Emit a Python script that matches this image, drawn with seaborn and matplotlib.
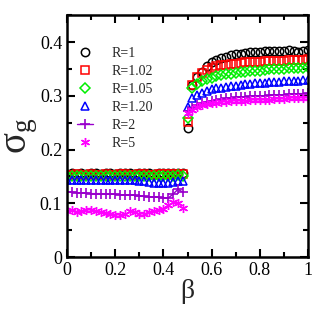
import matplotlib
matplotlib.use("Agg")
import matplotlib.pyplot as plt
import numpy as np
import pandas as pd
import seaborn as sns
from matplotlib.ticker import MultipleLocator, FuncFormatter

# beta grids (low phase and high phase)
beta_low = np.round(np.arange(0.0, 0.49, 0.02), 2)
beta_high = np.round(np.concatenate([[0.50], np.arange(0.52, 1.001, 0.02)]), 2)

labels = ['R=1', 'R=1.02', 'R=1.05', 'R=1.20', 'R=2', 'R=5']

r1_low = [0.155, 0.156, 0.155, 0.156, 0.155, 0.156, 0.156, 0.155, 0.156, 0.156,
          0.155, 0.156, 0.157, 0.156, 0.155, 0.156, 0.157, 0.156, 0.155, 0.156,
          0.157, 0.156, 0.156, 0.157, 0.157]
r102_low = [0.153, 0.153, 0.154, 0.153, 0.153, 0.154, 0.153, 0.153, 0.154, 0.153,
            0.153, 0.154, 0.154, 0.153, 0.153, 0.154, 0.154, 0.153, 0.153, 0.154,
            0.154, 0.154, 0.155, 0.155, 0.155]
r105_low = [0.150, 0.150, 0.151, 0.150, 0.150, 0.151, 0.150, 0.150, 0.151, 0.150,
            0.150, 0.151, 0.151, 0.150, 0.150, 0.151, 0.150, 0.150, 0.151, 0.150,
            0.151, 0.151, 0.150, 0.152, 0.151]
r120_low = [0.143, 0.143, 0.144, 0.143, 0.143, 0.144, 0.143, 0.143, 0.143, 0.143,
            0.143, 0.143, 0.143, 0.143, 0.143, 0.142, 0.142, 0.139, 0.138, 0.138,
            0.138, 0.138, 0.139, 0.142, 0.142]
r2_low = [0.121, 0.121, 0.120, 0.119, 0.119, 0.118, 0.118, 0.118, 0.117, 0.117,
          0.117, 0.116, 0.116, 0.115, 0.115, 0.113, 0.113, 0.112, 0.112, 0.111,
          0.110, 0.110, 0.117, 0.126, 0.121]
r5_low = [0.086, 0.087, 0.084, 0.085, 0.088, 0.087, 0.085, 0.083, 0.082, 0.081,
          0.079, 0.078, 0.080, 0.085, 0.084, 0.081, 0.081, 0.083, 0.085, 0.087,
          0.089, 0.097, 0.103, 0.101, 0.091]

r1_high = [0.240, 0.320, 0.335, 0.345, 0.355, 0.362, 0.366, 0.370, 0.373, 0.375,
           0.377, 0.378, 0.380, 0.381, 0.381, 0.382, 0.383, 0.383, 0.384, 0.384,
           0.383, 0.385, 0.384, 0.382, 0.384, 0.385]
r102_high = [0.252, 0.320, 0.335, 0.342, 0.348, 0.352, 0.355, 0.357, 0.358, 0.359,
             0.360, 0.361, 0.362, 0.362, 0.363, 0.363, 0.364, 0.364, 0.365, 0.365,
             0.365, 0.366, 0.366, 0.367, 0.367, 0.368]
r105_high = [0.259, 0.315, 0.322, 0.327, 0.331, 0.334, 0.336, 0.338, 0.340, 0.341,
             0.343, 0.344, 0.345, 0.346, 0.347, 0.347, 0.348, 0.349, 0.349, 0.350,
             0.350, 0.351, 0.351, 0.352, 0.352, 0.353]
r120_high = [0.280, 0.295, 0.302, 0.306, 0.309, 0.312, 0.314, 0.315, 0.317, 0.318,
             0.319, 0.320, 0.321, 0.322, 0.323, 0.324, 0.324, 0.325, 0.326, 0.326,
             0.327, 0.327, 0.328, 0.328, 0.329, 0.329]
r2_high = [0.272, 0.278, 0.283, 0.287, 0.289, 0.291, 0.292, 0.294, 0.295, 0.296,
           0.297, 0.297, 0.298, 0.299, 0.299, 0.300, 0.300, 0.301, 0.301, 0.302,
           0.302, 0.303, 0.303, 0.304, 0.304, 0.305]
r5_high = [0.268, 0.274, 0.279, 0.282, 0.284, 0.286, 0.287, 0.288, 0.289, 0.290,
           0.290, 0.291, 0.291, 0.292, 0.292, 0.293, 0.293, 0.293, 0.294, 0.294,
           0.294, 0.295, 0.295, 0.295, 0.296, 0.296]

lows = [r1_low, r102_low, r105_low, r120_low, r2_low, r5_low]
highs = [r1_high, r102_high, r105_high, r120_high, r2_high, r5_high]
colors = ['black', '#ff0000', '#00ee00', '#0000ff', '#9900cc', '#ff00ff']
markers = ['o', 's', 'D', '^', '+', (6, 2, 0)]
msizes = [6, 5.5, 4.8, 5.8, 7.5, 6.5]

rows = []
for lab, lo, hi in zip(labels, lows, highs):
    for b, v in zip(beta_low, lo):
        rows.append((lab, 'low', b, v))
    for b, v in zip(beta_high, hi):
        rows.append((lab, 'high', b, v))
df = pd.DataFrame(rows, columns=['R', 'phase', 'beta', 'sigma'])

sns.set_style("ticks")
plt.rcParams['font.family'] = ['Liberation Serif', 'DejaVu Serif']
plt.rcParams['mathtext.fontset'] = 'custom'
plt.rcParams['mathtext.rm'] = 'Liberation Serif'
plt.rcParams['mathtext.it'] = 'Liberation Serif:italic'

fig = plt.figure(figsize=(3.27, 3.09), dpi=100)
ax = fig.add_axes([0.205, 0.168, 0.737, 0.783])

for lab, c, m, ms in zip(labels, colors, markers, msizes):
    for phase in ['low', 'high']:
        sub = df[(df['R'] == lab) & (df['phase'] == phase)]
        kw = dict(data=sub, x='beta', y='sigma', ax=ax, color=c, marker=m,
                  markersize=ms, markeredgecolor=c, estimator=None,
                  label=lab if phase == 'low' else None)
        if lab == 'R=2':
            sns.lineplot(markeredgewidth=1.2, linewidth=1.0, **kw)
        elif lab == 'R=5':
            sns.lineplot(markeredgewidth=1.0, linestyle='none', **kw)
        else:
            sns.lineplot(markeredgewidth=1.1, markerfacecolor='none',
                         linestyle='none', **kw)

ax.set_xlim(0, 1)
ax.set_ylim(0, 0.45)
ax.xaxis.set_major_locator(MultipleLocator(0.2))
ax.xaxis.set_minor_locator(MultipleLocator(0.1))
ax.yaxis.set_major_locator(MultipleLocator(0.1))
ax.yaxis.set_minor_locator(MultipleLocator(0.05))
ax.xaxis.set_major_formatter(FuncFormatter(lambda v, p: f'{v:g}'))
ax.yaxis.set_major_formatter(FuncFormatter(lambda v, p: f'{v:g}'))
ax.tick_params(which='both', direction='in', top=True, right=True, width=1.5,
               labelsize=13, colors='black')
ax.tick_params(which='major', length=6)
ax.tick_params(which='minor', length=3.5)
for s in ax.spines.values():
    s.set_linewidth(1.8)
    s.set_color('black')

ax.set_xlabel('β', fontsize=20, labelpad=0)
ax.set_ylabel(r'$\mathrm{σ}_\mathrm{g}$', fontsize=28, labelpad=0)

leg = ax.legend(loc='upper left', bbox_to_anchor=(0.0, 0.91), frameon=False,
                fontsize=10, handletextpad=1.3, labelspacing=0.36,
                handlelength=1.2, borderaxespad=0.3)

fig.savefig('out.png', dpi=100)
